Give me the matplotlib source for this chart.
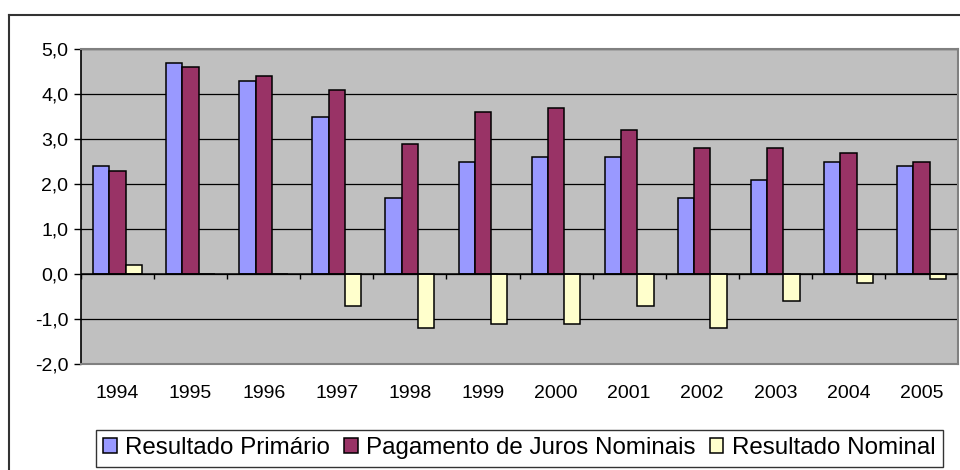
import matplotlib
matplotlib.use("Agg")
from matplotlib import pyplot as plt
from matplotlib.lines import Line2D
import numpy as np

plt.rcParams['font.family'] = ['Liberation Sans', 'DejaVu Sans']

# data (% do PIB)
anos = ['1994', '1995', '1996', '1997', '1998', '1999',
        '2000', '2001', '2002', '2003', '2004', '2005']
resultado_primario = [2.4, 4.7, 4.3, 3.5, 1.7, 2.5, 2.6, 2.6, 1.7, 2.1, 2.5, 2.4]
juros_nominais = [2.3, 4.6, 4.4, 4.1, 2.9, 3.6, 3.7, 3.2, 2.8, 2.8, 2.7, 2.5]
resultado_nominal = [0.2, 0.0, 0.0, -0.7, -1.2, -1.1, -1.1, -0.7, -1.2, -0.6, -0.2, -0.1]
y_ticks = [-2.0, -1.0, 0.0, 1.0, 2.0, 3.0, 4.0, 5.0]

fig = plt.figure(figsize=(9.6, 4.7), dpi=100)
ax = fig.add_axes([81/960, 1 - 364/470, (958 - 81)/960, (364 - 49)/470])
ax.set_facecolor('#C0C0C0')

x = np.arange(len(anos))
w = 0.223
ax.bar(x - w, resultado_primario, w, color='#9999FF', edgecolor='black', linewidth=1.1,
       label='Resultado Primário', zorder=3)
ax.bar(x, juros_nominais, w, color='#993366', edgecolor='black', linewidth=1.1,
       label='Pagamento de Juros Nominais', zorder=3)
ax.bar(x + w, resultado_nominal, w, color='#FFFFCC', edgecolor='black', linewidth=1.1,
       label='Resultado Nominal', zorder=3)

ax.set_xlim(-0.5, len(anos) - 0.5)
ax.set_ylim(-2, 5)
ax.set_yticks(y_ticks)
ax.set_yticklabels([f'{v:.1f}'.replace('.', ',') for v in y_ticks], fontsize=14)
ax.set_xticks(x)
ax.set_xticklabels(anos, fontsize=14)
ax.tick_params(axis='x', length=0, pad=15)
ax.tick_params(axis='y', length=5, width=1, direction='out', pad=4)

# gridlines + category axis at zero
for v in y_ticks[1:]:
    ax.axhline(v, color='black', linewidth=0.9, zorder=1)
ax.axhline(0, color='black', linewidth=1.1, zorder=4)
ax.vlines(np.arange(len(anos) + 1) - 0.5, -0.11, 0, color='black', linewidth=1, zorder=4)

for s in ['top', 'right', 'bottom']:
    ax.spines[s].set_color('#808080')
    ax.spines[s].set_linewidth(1.5)
ax.spines['left'].set_color('black')
ax.spines['left'].set_linewidth(1.2)

# outer chart frame (only left and top visible)
fig.add_artist(Line2D([8.5/960, 8.5/960], [0, 1 - 15/470], color='#333333', linewidth=1.5))
fig.add_artist(Line2D([8.5/960, 1], [1 - 15/470, 1 - 15/470], color='#333333', linewidth=1.5))

leg = fig.legend(loc='upper left', bbox_to_anchor=(96/960, 1 - 430/470), ncol=3,
                 fontsize=17.4, frameon=True, fancybox=False, borderpad=0.3,
                 handlelength=0.55, handleheight=0.55, handletextpad=0.35,
                 columnspacing=0.6, borderaxespad=0)
leg.get_frame().set_edgecolor('black')
leg.get_frame().set_linewidth(1)

fig.savefig('out.png', dpi=100)
